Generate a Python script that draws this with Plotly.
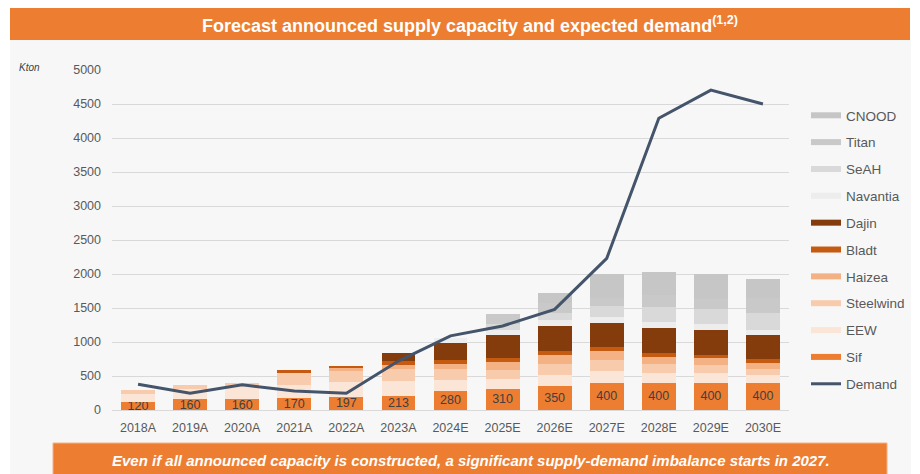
import plotly.graph_objects as go

years = ["2018A", "2019A", "2020A", "2021A", "2022A", "2023A", "2024E",
         "2025E", "2026E", "2027E", "2028E", "2029E", "2030E"]

# capacity per supplier (kton), stacked from bottom to top
sif = [120, 160, 160, 170, 197, 213, 280, 310, 350, 400, 400, 400, 400]
eew = [115, 155, 190, 205, 220, 215, 160, 150, 170, 180, 150, 140, 110]
steelwind = [60, 60, 40, 170, 150, 170, 160, 130, 155, 150, 120, 120, 100]
haizea = [0, 0, 0, 0, 55, 70, 75, 120, 135, 135, 115, 100, 85]
bladt = [0, 0, 0, 50, 20, 50, 60, 60, 65, 65, 50, 50, 60]
dajin = [0, 0, 0, 0, 0, 120, 245, 340, 360, 355, 370, 360, 345]
navantia = [0, 0, 0, 0, 0, 0, 80, 65, 90, 90, 85, 90, 80]
seah = [0, 0, 0, 0, 0, 0, 0, 90, 100, 155, 230, 230, 245]
titan = [0, 0, 0, 0, 0, 0, 0, 150, 145, 110, 170, 145, 215]
cnood = [0, 0, 0, 0, 0, 0, 0, 0, 150, 355, 345, 370, 285]

demand = [380, 245, 370, 280, 245, 720, 1090, 1235, 1480, 2230, 4290, 4705, 4500]

series = [
    ("Sif", sif, "#ED7D31"),
    ("EEW", eew, "#FBE5D6"),
    ("Steelwind", steelwind, "#F8CBAD"),
    ("Haizea", haizea, "#F4B183"),
    ("Bladt", bladt, "#C55A11"),
    ("Dajin", dajin, "#843C0C"),
    ("Navantia", navantia, "#EDEDED"),
    ("SeAH", seah, "#D9D9D9"),
    ("Titan", titan, "#C9C9C9"),
    ("CNOOD", cnood, "#C6C6C6"),
]

FONT = "Liberation Sans, Arial, sans-serif"
GREY_TXT = "#595959"

fig = go.Figure()

for name, vals, col in series:
    fig.add_trace(go.Bar(
        x=years, y=vals, name=name, marker_color=col, marker_line_width=0,
        legendgroup=name, showlegend=False,
        text=vals if name == "Sif" else None,
        textposition="inside" if name == "Sif" else "none",
        insidetextanchor="middle", textangle=0,
        textfont=dict(color="#404040", size=12.5, family=FONT),
        hoverinfo="x+y+name",
    ))

fig.add_trace(go.Scatter(
    x=years, y=demand, mode="lines", name="Demand", legendgroup="Demand",
    showlegend=False, line=dict(color="#44546A", width=3),
))

# legend entries drawn as wide strokes, CNOOD first
for name, vals, col in series[::-1]:
    fig.add_trace(go.Scatter(
        x=[None], y=[None], mode="lines", name=name, legendgroup=name,
        line=dict(color=col, width=6), hoverinfo="skip",
    ))
fig.add_trace(go.Scatter(
    x=[None], y=[None], mode="lines", name="Demand", legendgroup="Demand",
    line=dict(color="#44546A", width=3), hoverinfo="skip",
))

# page pixel -> paper helpers (page has 8px body margin, plot area x 112..789, y 70..410)
def fx(px):
    return (px - 112) / 677.0

def fy(py):
    return (410 - py) / 340.0

shapes = [
    dict(type="rect", xref="paper", yref="paper", layer="below",
         x0=fx(10), x1=fx(911), y0=fy(490), y1=fy(40),
         fillcolor="#F7F7F7", line_width=0),
    dict(type="rect", xref="paper", yref="paper", layer="below",
         x0=fx(10), x1=fx(910), y0=fy(40), y1=fy(7),
         fillcolor="#ED7D31", line_width=0),
    dict(type="rect", xref="paper", yref="paper", layer="below",
         x0=fx(53), x1=fx(887), y0=fy(490), y1=fy(443),
         fillcolor="#ED7D31", line=dict(color="#F4B183", width=1)),
]

annotations = [
    dict(text="<b>Forecast announced supply capacity and expected demand<sup>(1,2)</sup></b>",
         xref="paper", yref="paper", x=fx(470), y=fy(24), showarrow=False,
         xanchor="center", yanchor="middle",
         font=dict(family=FONT, size=18, color="white")),
    dict(text="<b><i>Even if all announced capacity is constructed, a significant supply-demand imbalance starts in 2027.</i></b>",
         xref="paper", yref="paper", x=fx(471), y=fy(461), showarrow=False,
         xanchor="center", yanchor="middle",
         font=dict(family=FONT, size=15, color="white")),
    dict(text="<i>Kton</i>", xref="paper", yref="paper", x=fx(17), y=fy(67),
         showarrow=False, xanchor="left", yanchor="middle",
         font=dict(family=FONT, size=10, color="#404040")),
]

fig.update_layout(
    width=920, height=474,
    margin=dict(l=104, r=139, t=62, b=72),
    barmode="stack", bargap=0.35,
    paper_bgcolor="white", plot_bgcolor="rgba(0,0,0,0)",
    font=dict(family=FONT, color=GREY_TXT),
    shapes=shapes, annotations=annotations,
    uniformtext=dict(minsize=12.5, mode="show"),
    legend=dict(x=fx(806), y=fy(100), xanchor="left", yanchor="top",
                traceorder="grouped", tracegroupgap=6.3,
                font=dict(size=13.5, color=GREY_TXT, family=FONT),
                bgcolor="rgba(0,0,0,0)"),
    showlegend=True,
)
fig.update_xaxes(showgrid=False, showline=False, ticks="",
                 tickfont=dict(size=12.5, color=GREY_TXT), ticklabelstandoff=8)
fig.update_yaxes(range=[0, 5000], dtick=500, showgrid=True, gridcolor="#D9D9D9",
                 gridwidth=1, zeroline=True, zerolinecolor="#D9D9D9", zerolinewidth=1,
                 showline=False, ticks="", tickfont=dict(size=12.5, color=GREY_TXT),
                 ticklabelstandoff=10)

fig.write_html("out.html")
